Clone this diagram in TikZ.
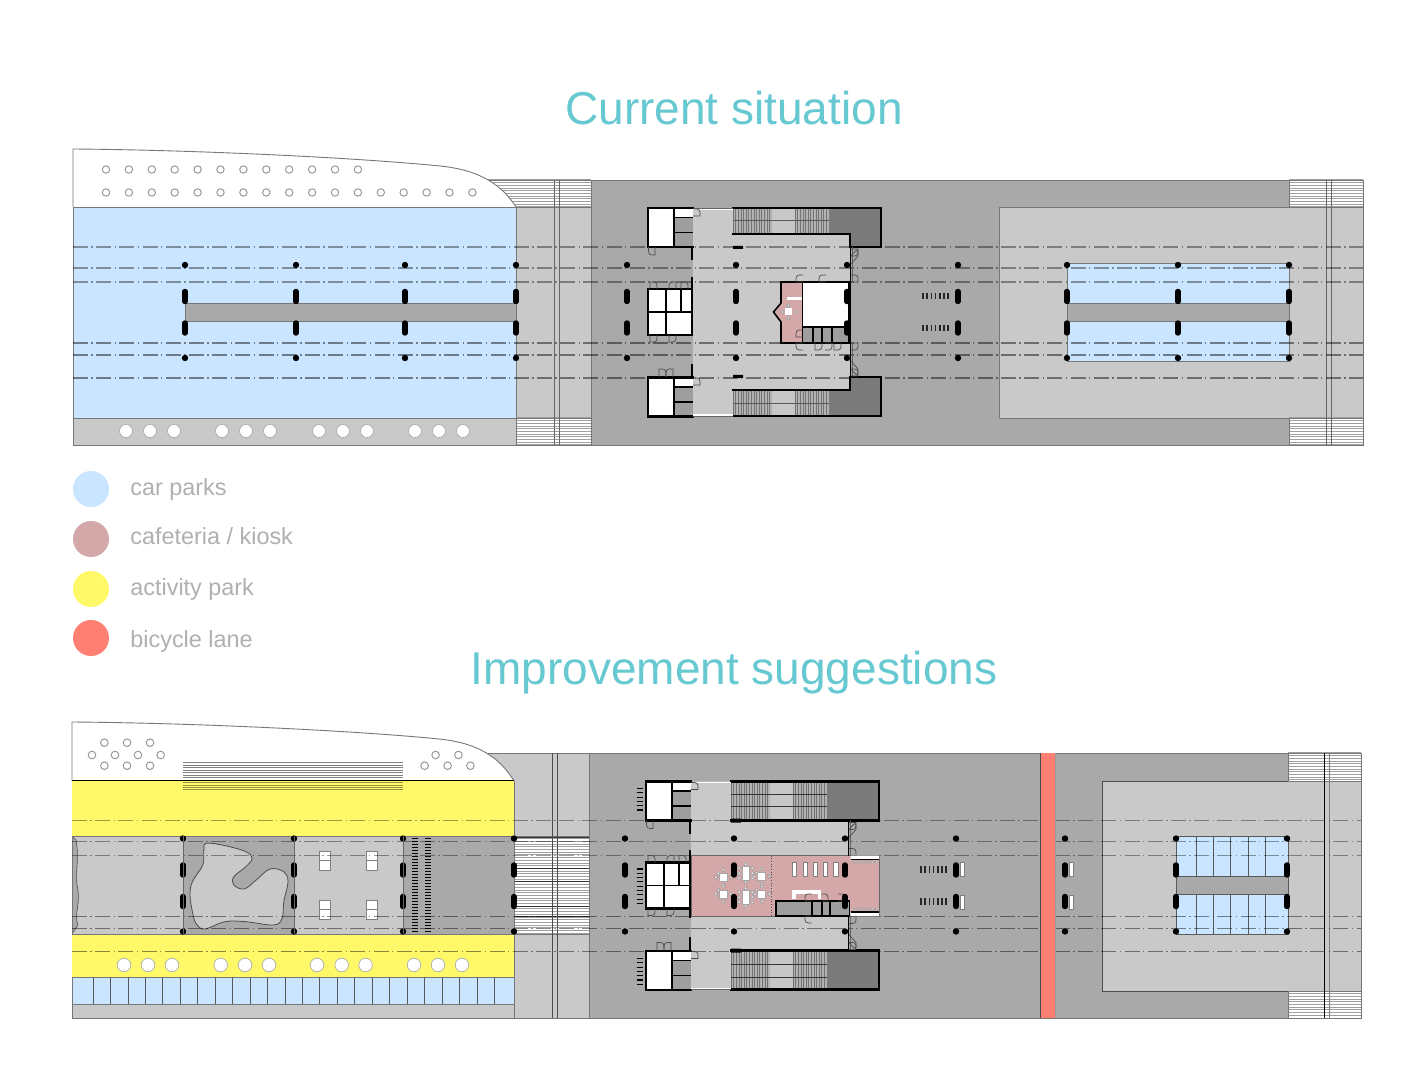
\documentclass[tikz,border=0pt]{standalone}
\usepackage{fontspec}
\setmainfont{Liberation Sans}
\definecolor{roadD}{HTML}{A9A9A9}
\definecolor{roadL}{HTML}{C9C9C9}
\definecolor{parkB}{HTML}{C9E5FF}
\definecolor{cafeP}{HTML}{D4A8A8}
\definecolor{actY}{HTML}{FFF96A}
\definecolor{bikeR}{HTML}{FF7F73}
\definecolor{titleC}{HTML}{66C9D2}
\definecolor{legendT}{HTML}{B0B0B0}
\definecolor{edgeG}{HTML}{777777}
\definecolor{darkB}{HTML}{7B7B7B}
\tikzset{
  edgeline/.style={draw=edgeG,line width=.45pt},
  wall/.style={draw=black,line width=1.3pt,line cap=rect},
  thinwall/.style={draw=black,line width=.8pt},
  axisupper/.style={draw=black,draw opacity=.38,line width=.6pt,dash pattern=on 7.5pt off 1.7pt on .7pt off 1.7pt},
  axislower/.style={draw=black,draw opacity=.46,line width=.55pt,dash pattern=on 7.5pt off 1.7pt on .7pt off 1.7pt},
  hatchline/.style={draw=gray!75,line width=.5pt},
  doorline/.style={draw=black!70,line width=.35pt},
  titletext/.style={text=titleC,font=\fontsize{23}{28}\selectfont,inner sep=0pt,anchor=base},
  legendtext/.style={text=legendT,font=\fontsize{11.7}{14}\selectfont,anchor=base west,inner sep=0pt},
  legenddot/.style={circle,inner sep=0pt,minimum size=18pt},
  seat/.style={draw=gray!80,fill=white,line width=.3pt},
  pillar/.style={draw=black,line width=2.7pt,line cap=round},
}
\newcommand\hatchbox[4]{%
  \fill[white] (#1,#2) rectangle (#3,#4);
  \pgfmathsetmacro\hatchnext{#2+2.7}
  \foreach \yy in {#2,\hatchnext,...,#4}{\draw[hatchline] (#1,\yy) -- (#3,\yy);}
  \draw[edgeline] (#1,#2) rectangle (#3,#4);
}
\newcommand\axislines[2]{%
  \foreach \yy in {247,268,282}{\draw[axisupper] (#1,\yy) -- (#2,\yy);}
  \foreach \yy in {343,355,378}{\draw[axislower] (#1,\yy) -- (#2,\yy);}
}
\newcommand\pillars[1]{%
  \foreach \xx in {#1}{
    \fill[black] (\xx,265) circle (3.2);
    \fill[black] (\xx,358) circle (3.2);
    \draw[pillar] (\xx,291.5) -- (\xx,301.5);
    \draw[pillar] (\xx,323) -- (\xx,333);
  }
}
\newcommand\door[6]{%
  \pgfmathsetmacro\dcx{#3+#5-#1}\pgfmathsetmacro\dcy{#4+#6-#2}
  \draw[doorline] (#1,#2) -- (#3,#4) .. controls (\dcx,\dcy) .. (#5,#6);
}
\newcommand\stairs[2]{%
  \fill[black!22] (733,#1) rectangle (829,#2);
  \fill[black!30] (733,#1) rectangle (772,#2);
  \fill[black!30] (795,#1) rectangle (829,#2);
  \foreach \xx in {733,735.6,...,772}{\draw[black!55,line width=.3pt] (\xx,#1) -- (\xx,#2);}
  \foreach \xx in {795,797.6,...,829}{\draw[black!55,line width=.3pt] (\xx,#1) -- (\xx,#2);}
}
\newcommand\cornerrooms{%
  \fill[white] (648,208) rectangle (674,247);
  \fill[white] (674,208) rectangle (693,217);
  \fill[black!38] (674,217) rectangle (693,247);
  \draw[thinwall] (674,208) -- (674,247);
  \draw[thinwall] (674,217.5) -- (693,217.5);
  \draw[thinwall] (674,232.5) -- (693,232.5);
  \draw[wall] (693,208) -- (648,208) -- (648,247) -- (693,247);
}
\newcommand\midrooms{%
  \fill[white] (648,289) rectangle (692,335);
  \draw[thinwall] (665.7,289) -- (665.7,335);
  \draw[thinwall] (680.7,289) -- (680.7,312);
  \draw[thinwall] (648,312) -- (692,312);
  \draw[wall] (692,289) -- (648,289) -- (648,335) -- (692,335);
  \door{650}{289}{650}{282}{657}{289}
  \door{676}{289}{676}{282}{669}{289}
  \door{681}{289}{681}{282}{688}{289}
  \door{650}{335}{650}{342}{657}{335}
  \door{669}{335}{669}{342}{676}{335}
}
\newcommand\buildingshell{%
  \draw[wall] (692,247) -- (692,259);
  \draw[wall] (692,278) -- (692,335);
  \draw[wall] (692,365) -- (692,377);
  \draw[black!60,line width=.4pt] (693,208.5) -- (733,208.5);
  \draw[black!60,line width=.4pt] (693,416) -- (733,416);
  \draw[white,line width=.7pt] (693,209.3) -- (733,209.3);
  \draw[white,line width=.7pt] (693,415.2) -- (733,415.2);
  \draw[black,line width=.5pt] (850,247) -- (850,282) (850,342) -- (850,376);
  \draw[black!60,line width=.3pt] (852,247) -- (852,282) (852,342) -- (852,376);
  \door{693}{216}{700}{216}{693}{209}
  \door{693}{385}{700}{385}{693}{378}
  \door{655}{247}{655}{255}{648.5}{247}
  \door{851}{249}{858}{249}{851}{256}
  \door{851}{264}{858}{256}{851}{256}
  \door{851}{282}{858}{282}{851}{275}
  \door{851}{343}{858}{343}{851}{350}
  \door{851}{376}{858}{376}{851}{369}
  \door{851}{361}{858}{369}{851}{369}
  \door{659}{377}{659}{369}{666}{377}
  \door{673}{377}{673}{369}{666}{377}
  \foreach \yy in {296,328}{\foreach \xx in {923,927.2,...,950}{\draw[black!85,line width=.75pt] (\xx,\yy-3.3) -- (\xx,\yy+3.3);}}
}
\begin{document}
\begin{tikzpicture}[x=.5pt,y=-.5pt]
\useasboundingbox (0,0) rectangle (1426,1080);
\fill[white] (0,0) rectangle (1426,1080);

%% ================= titles and legend
\node[titletext] (t1) at (734,124.3) {Current situation};
\node[titletext] (t2) at (734,684.3) {Improvement suggestions};
\node[legenddot,fill=parkB] (l1) at (91,489) {};
\node[legenddot,fill=cafeP] (l2) at (91,539) {};
\node[legenddot,fill=actY] (l3) at (91,589) {};
\node[legenddot,fill=bikeR] (l4) at (91,638) {};
\node[legendtext] (lt1) at (130,495.7) {car parks};
\node[legendtext] (lt2) at (130,545) {cafeteria / kiosk};
\node[legendtext] (lt3) at (130,595.7) {activity park};
\node[legendtext] (lt4) at (130,647.3) {bicycle lane};

%% ================= CURRENT SITUATION
\fill[roadD] (591,180) rectangle (1363,445);
\draw[edgeline] (591,180) rectangle (1363,445);
% left hatch and light strip
\hatchbox{488}{180}{591}{207}
\fill[roadL] (516,207) rectangle (591,418);
\draw[edgeline] (516,207) rectangle (591,418);
\hatchbox{516}{418}{591}{445}
% outline shape
\fill[white] (73,149) .. controls (200,150) and (360,158) .. (440,166) .. controls (480,170) and (502,185) .. (516,207) -- (73,207) -- cycle;
\draw[edgeline] (73,207) -- (73,149) .. controls (200,150) and (360,158) .. (440,166) .. controls (480,170) and (502,185) .. (516,207);
\fill[parkB] (73,207) rectangle (516,418);
\draw[edgeline] (73,207) rectangle (516,418);
\fill[roadL] (73,418) rectangle (516,445);
\draw[edgeline] (73,418) rectangle (516,445);
\foreach \i in {0,...,11}{\draw[gray!80,line width=.5pt,fill=white] ({106+22.9*\i},169.5) circle (3.7);}
\foreach \i in {0,...,16}{\draw[gray!80,line width=.5pt,fill=white] ({106+22.9*\i},192.5) circle (3.7);}
\foreach \xx in {126,150,174,222,246,270,319,343,367,415,439,463}{\fill[white] (\xx,431) circle (6.5);\draw[gray!70,line width=.3pt] (\xx,431) circle (6.5);}
\fill[roadD] (185,303) rectangle (516,321);
\draw[edgeline] (185,303) rectangle (516,321);
% right area
\fill[roadL] (999,207) rectangle (1363,418);
\draw[edgeline] (999,418) -- (999,207) -- (1289,207);
\draw[edgeline] (999,418) -- (1289,418);
\hatchbox{1289}{180}{1363}{207}
\hatchbox{1289}{418}{1363}{445}
\fill[parkB] (1067,263) rectangle (1289,361);
\draw[edgeline] (1067,263) rectangle (1289,361);
\fill[roadD] (1067,303) rectangle (1289,321);
\draw[edgeline] (1067,303) rectangle (1289,321);
\draw[black!60,line width=.5pt] (554,180) -- (554,445) (559,180) -- (559,445);
\draw[black!60,line width=.5pt] (1326,180) -- (1326,445) (1331,180) -- (1331,445);
% corridor
\fill[roadL] (693,208) -- (733,208) -- (733,234) -- (850,234) -- (850,390) -- (733,390) -- (733,416) -- (693,416) -- cycle;
\axislines{73}{1363}
% stairs and dark blocks
\stairs{208}{234}
\stairs{390}{416}
\draw[black!65,line width=.4pt] (733,220.5) -- (829,220.5) (733,403.5) -- (829,403.5);
\fill[darkB] (829,208) -- (881,208) -- (881,247) -- (850,247) -- (850,234) -- (829,234) -- cycle;
\fill[darkB] (829,416) -- (881,416) -- (881,377) -- (850,377) -- (850,390) -- (829,390) -- cycle;
\draw[wall] (733,234) -- (850,234) -- (850,247) -- (881,247) -- (881,208) -- (733,208);
\draw[wall] (733,390) -- (850,390) -- (850,377) -- (881,377) -- (881,416) -- (733,416);
\fill[black] (733,246) rectangle (743,249) (733,375) rectangle (743,378);
\cornerrooms
\begin{scope}[shift={(0,169.5)}]\cornerrooms\end{scope}
\midrooms
\buildingshell
% kiosk
\fill[cafeP] (781,282) -- (803,282) -- (803,343) -- (781,343) -- (781,322) -- (773.5,312) -- (781,303) -- cycle;
\draw[thinwall] (781,282) -- (803,282) -- (803,343) -- (781,343) -- (781,322) -- (773.5,312) -- (781,303) -- cycle;
\fill[white] (787,297) rectangle (802,300);
\foreach \cx/\cy in {788.5/305.5,788.5/318,782.5/312,795/312}{\draw[seat] (\cx,\cy) circle (1.6);}
\fill[white] (785,308.5) rectangle (792,315.5);
\fill[white] (803,283) rectangle (849,327);
\draw[thinwall] (803,327) -- (849,327);
\fill[black!38] (803,328) rectangle (849,342);
\foreach \xx in {813,822,832}{\draw[thinwall] (\xx,328) -- (\xx,343);}
\draw[wall] (803,282) -- (849.5,282) -- (849.5,343) -- (781,343);
\door{803}{282}{796}{282}{803}{275}
\door{826}{282}{819}{282}{826}{275}
\door{803}{343}{796}{343}{803}{350}
\door{815}{343}{815}{350}{822}{343}
\door{825}{343}{832}{343}{825}{350}
\door{834}{343}{834}{350}{841}{343}
\door{803}{337}{796}{337}{803}{330}
\pillars{185,296,405,516,627,736,847,958,1067,1178,1289}

%% ================= IMPROVEMENT SUGGESTIONS
\fill[roadD] (589,753) rectangle (1361,1018);
\draw[edgeline] (589,753) rectangle (1361,1018);
\fill[roadL] (487,753) rectangle (589,1018);
\draw[edgeline] (487,753) -- (589,753) -- (589,1018) -- (514,1018);
\fill[white] (72,722) .. controls (199,723) and (359,731) .. (439,739) .. controls (479,743) and (500,758) .. (514,781) -- (72,781) -- cycle;
\draw[edgeline] (72,781) -- (72,722) .. controls (199,723) and (359,731) .. (439,739) .. controls (479,743) and (500,758) .. (514,781);
\foreach \cx/\cy in {104.4/742.7,127/742.7,150/742.7,92/755,115/755,138/755,160.7/755,104.4/765.7,127/765.7,150/765.7,435.6/755,458.4/755,424.6/765.7,447.6/765.7,470.4/765.7}{\draw[gray!80,line width=.5pt] (\cx,\cy) circle (3.8);}
% yellow bands
\fill[actY] (72,781) rectangle (514,836);
\fill[actY] (72,934) rectangle (514,977);
\draw[edgeline] (514,781) -- (514,977);
\draw[black,line width=.5pt] (72,780.7) -- (514,780.7);
% stripes over the shore
\foreach \yy in {763,765.5,...,778}{\draw[gray,line width=.5pt] (183,\yy) -- (403,\yy);}
\foreach \yy in {783,785.2,...,790}{\draw[black!40!actY,line width=.5pt] (183,\yy) -- (403,\yy);}
% park
\fill[parkB] (72,977) rectangle (514,1004);
\draw[edgeline] (72,977) rectangle (514,1004);
\fill[roadL] (72,1004) rectangle (514,1018);
\draw[edgeline] (72,1004) rectangle (514,1018);
\foreach \i in {0,...,23}{\draw[black!65,line width=.4pt] ({93+17.45*\i},977) -- ({93+17.45*\i},1004);}
% middle zones
\fill[roadL] (72,836) rectangle (514,934);
\fill[roadD] (183,836) rectangle (294,934);
\fill[roadD] (403,836) rectangle (514,934);
\fill[roadD] (72,836) -- (76,840) .. controls (80,860) and (74,875) .. (78,890) .. controls (80,905) and (74,915) .. (78,925) -- (72,934) -- cycle;
\draw[black!70,line width=.3pt] (72,836) -- (76,840) .. controls (80,860) and (74,875) .. (78,890) .. controls (80,905) and (74,915) .. (78,925) -- (72,934);
\draw[edgeline] (72,836) rectangle (514,934);
\fill[roadL,draw=black!70,line width=.4pt] plot[smooth cycle,tension=.6] coordinates {(206.2,843.3)(225.2,845.7)(245.9,851.7)(252.1,858.3)(245.9,866.7)(233.8,876.7)(233.8,885)(244.2,889)(256.2,880)(270,869)(283.8,871.7)(288,881.7)(283.8,901.7)(282.1,918.3)(273.5,925)(245.9,921.7)(225.2,921.7)(204.5,929)(195.9,923.3)(192.4,911.7)(190,895)(192.4,881.7)(202.8,865)(203.8,851.7)};
\foreach \rx in {319.5,366.6}{\foreach \ry in {851,900}{
  \fill[white] (\rx,\ry) rectangle (\rx+11,\ry+19);
  \draw[gray,line width=.35pt] (\rx,\ry) rectangle (\rx+11,\ry+19);
  \draw[gray,line width=.35pt] (\rx,\ry+9) -- (\rx+11,\ry+9);
}}
% centre stripes
\fill[white] (514,836) rectangle (589,934);
\foreach \yy in {836,838.7,...,934}{\draw[hatchline] (514,\yy) -- (589,\yy);}
\foreach \yy in {837,868,881,906,916,934}{\draw[black!80,line width=.35pt] (514,\yy) -- (589,\yy);}
\draw[edgeline] (514,836) rectangle (589,934);
% right area
\fill[roadL] (1102.5,781) rectangle (1361,991);
\draw[black!70,line width=.45pt] (1288,781) -- (1102.5,781) -- (1102.5,991) -- (1288,991);
\hatchbox{1288}{753}{1361}{781}
\hatchbox{1288}{991}{1361}{1018}
\fill[parkB] (1176,836) rectangle (1288,934);
\foreach \xx in {1196.3,1213.3,1230.3,1248.3,1265.3}{\draw[black!65,line width=.4pt] (\xx,836) -- (\xx,934);}
\draw[black!65,line width=.4pt] (1176,836) rectangle (1288,934);
\fill[roadD] (1176,876.7) rectangle (1288,894.7);
\draw[black!65,line width=.4pt] (1176,876.7) rectangle (1288,894.7);
\draw[black!70,line width=.5pt] (552,753) -- (552,1018) (557,753) -- (557,1018);
\draw[black,line width=.5pt] (1324.3,753) -- (1324.3,1018);
\draw[black!50,line width=.5pt] (1329.3,753) -- (1329.3,1018);
% axis lines and pillars of the park
\begin{scope}[shift={(0,573.5)}]
\axislines{72}{1040}
\axislines{1055}{1361}
\pillars{183,294,403,514,1065,1176,1287}
\foreach \xx in {183,294,403}{\draw[black!60,line width=.5pt] (\xx,262.5) -- (\xx,360.5);}
\end{scope}
% dotted stripes near the third bay
\foreach \xx in {415,428}{\draw[black,line width=3pt,dash pattern=on .6pt off .9pt] (\xx,838) -- (\xx,932);}
\fill[bikeR] (1040,753) rectangle (1055,1018);
\draw[black!70,line width=.45pt] (1040,753) -- (1040,1018);
\draw[black!40,line width=.5pt] (1055,753) -- (1055,1018);
\foreach \xx in {124,148,172,220.7,245,269,317,341.7,365.6,414,438,462}{\fill[white] (\xx,965) circle (6.8);\draw[gray!70,line width=.3pt] (\xx,965) circle (6.8);}
\foreach \ry in {862.3,895}{\fill[white] (1069,\ry) rectangle (1073,\ry+14);\draw[gray,line width=.3pt] (1069,\ry) rectangle (1073,\ry+14);}

% building, shifted
\begin{scope}[shift={(-2,573.5)}]
\fill[roadL] (693,208) -- (733,208) -- (733,247) -- (850,247) -- (850,377) -- (733,377) -- (733,416) -- (693,416) -- cycle;
\stairs{208}{247}
\stairs{377}{416}
\draw[black!80,line width=.5pt] (733,220.5) -- (829,220.5) (733,233) -- (829,233) (733,391) -- (829,391) (733,403.5) -- (829,403.5);
\fill[darkB] (829,208) rectangle (881,247);
\fill[darkB] (829,377) rectangle (881,416);
\draw[wall] (733,247) -- (881,247) -- (881,208) -- (733,208);
\draw[wall] (733,377) -- (881,377) -- (881,416) -- (733,416);
\fill[black] (733,245) rectangle (743,249) (733,375) rectangle (743,379);
\cornerrooms
\begin{scope}[shift={(0,169.5)}]\cornerrooms\end{scope}
\midrooms
\axislines{693}{850}
\fill[cafeP] (693,282) rectangle (881,343);
\draw[black!60,line width=.3pt] (693,282) rectangle (881,343);
\buildingshell
\draw[wall] (692,335) -- (692,343);
\draw[black!70,line width=.35pt,densely dotted] (773.7,282) -- (773.7,343);
\fill[white] (852.7,282) rectangle (881,286) (852.7,338.5) rectangle (881,342.5);
\draw[black,line width=.6pt] (852.7,286) -- (881,286) (852.7,338.5) -- (881,338.5);
\foreach \i in {0,...,6}{\draw[seat] ({856+3.7*\i},288.5) circle (1.3);\draw[seat] ({856+3.7*\i},335.5) circle (1.3);}
\foreach \xx in {794.3,805,815,825.3,835.7}{\fill[white] (\xx,289) rectangle (\xx+4.3,303);\draw[black!50,line width=.25pt] (\xx,289) rectangle (\xx+4.3,303);}
\draw[white,line width=1.7pt] (796,325) -- (796,318.5) -- (821.5,318.5) -- (821.5,325);
\fill[black!38] (777.7,327.5) rectangle (851.3,342.5);
\draw[thinwall] (777.7,342.5) -- (777.7,327.5) -- (851.3,327.5) -- (851.3,342.5) -- cycle;
\foreach \xx in {813.7,823.7,832}{\draw[thinwall] (\xx,327.5) -- (\xx,342.5);}
\door{813.7}{327.5}{807}{327.5}{813.7}{320.5}
\door{823.7}{327.5}{830}{327.5}{823.7}{320.5}
\door{840}{327.5}{847}{327.5}{840}{320.5}
\door{813.7}{342.5}{807}{342.5}{813.7}{349.5}
\foreach \tx/\ty in {725.3/303.8,763.7/303,725.3/320.5,763.7/320.5}{
  \foreach \ox/\oy in {-7.5/0,-5/-4,7.5/0,0/-7.5,0/7.5}{\draw[seat] (\tx+\ox,\ty+\oy) circle (1.6);}
  \fill[white,draw=gray!70,line width=.25pt] (\tx-4,\ty-4) rectangle (\tx+4,\ty+4);
}
\foreach \ty in {299.7,323.7}{
  \foreach \oy in {-5,0,5}{\draw[seat] (747.7-6.5,\ty+\oy) circle (1.6);\draw[seat] (747.7+6.5,\ty+\oy) circle (1.6);}
  \draw[seat] (747.7,\ty-9) circle (1.6);\draw[seat] (747.7,\ty+9) circle (1.6);
  \fill[white,draw=gray!70,line width=.25pt] (744.2,\ty-6.7) rectangle (751.2,\ty+6.7);
}
\pillars{627,736,847,958}
\foreach \ry in {289,321.5}{\fill[white] (962,\ry) rectangle (966,\ry+14);\draw[gray,line width=.3pt] (962,\ry) rectangle (966,\ry+14);}
\foreach \ya/\yb in {215/240.5,295.5/330,385/411}{
  \pgfmathsetmacro\ynx{\ya+4.3}
  \foreach \yy in {\ya,\ynx,...,\yb}{\draw[black,line width=.55pt] (638.7,\yy) -- (645.3,\yy);}
}
\end{scope}
\end{tikzpicture}
\end{document}
